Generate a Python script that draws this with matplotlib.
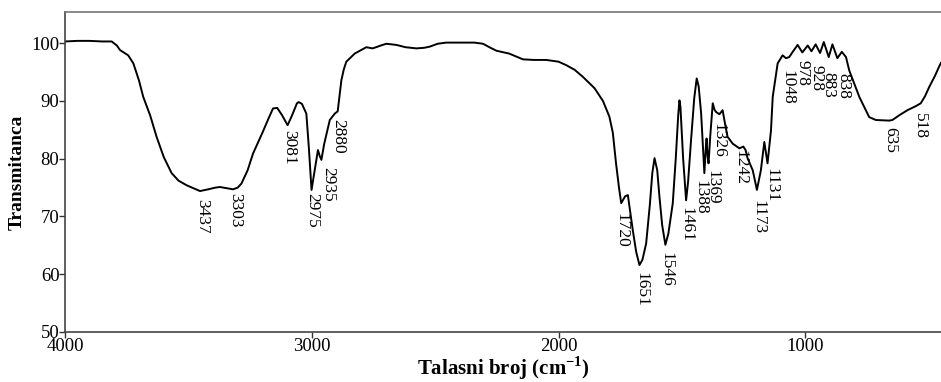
import matplotlib
matplotlib.use('Agg')
import matplotlib.pyplot as plt

plt.rcParams['font.family'] = ['Liberation Serif', 'DejaVu Serif']

# spektar (talasni broj, transmitanca) ocitan sa slike
wn = [4000, 3950, 3900, 3850, 3811, 3790, 3777, 3755, 3744, 3723, 3700, 3683,
      3655, 3629, 3600, 3568, 3540, 3507, 3480, 3453, 3420, 3390, 3372, 3345,
      3319, 3300, 3285, 3260, 3238, 3200, 3175, 3157, 3140, 3120, 3098, 3080,
      3060, 3053, 3040, 3022, 3012, 3001, 2990, 2975, 2968, 2961, 2950, 2927,
      2907, 2895, 2880, 2870, 2860, 2826, 2800, 2779, 2753, 2720, 2698, 2657,
      2620, 2576, 2545, 2522, 2490, 2455, 2400, 2340, 2306, 2280, 2252, 2200,
      2144, 2100, 2050, 2000, 1969, 1935, 1902, 1854, 1820, 1794, 1780, 1767,
      1755, 1746, 1730, 1719, 1710, 1699, 1685, 1672, 1660, 1645, 1630, 1620,
      1611, 1600, 1591, 1580, 1567, 1555, 1537, 1525, 1515, 1510, 1506, 1495,
      1483, 1475, 1463, 1450, 1440, 1432, 1422, 1409, 1403, 1400, 1396, 1392,
      1385, 1375, 1368, 1362, 1348, 1335, 1325, 1315, 1294, 1267, 1251, 1242,
      1234, 1213, 1196, 1180, 1166, 1153, 1139, 1132, 1112, 1092, 1078, 1065,
      1051, 1031, 1012, 990, 975, 958, 940, 925, 905, 890, 870, 852,
      835, 822, 781, 741, 714, 660, 647, 620, 586, 552, 532, 515,
      498, 475, 457, 450]
T = [100.3, 100.4, 100.4, 100.3, 100.3, 99.6, 98.8, 98.2, 97.9, 96.5, 93.5, 90.7,
     87.5, 83.8, 80.3, 77.5, 76.2, 75.4, 74.9, 74.4, 74.7, 75.0, 75.1, 74.9,
     74.7, 75.0, 75.7, 78.0, 80.9, 84.5, 87.0, 88.7, 88.8, 87.5, 85.8, 87.5,
     89.6, 89.8, 89.5, 87.8, 82.0, 74.6, 77.5, 81.5, 80.5, 79.8, 82.5, 86.7,
     87.8, 88.2, 93.6, 95.5, 96.8, 98.2, 98.8, 99.3, 99.1, 99.6, 99.9, 99.7,
     99.3, 99.1, 99.2, 99.4, 99.9, 100.1, 100.1, 100.1, 99.9, 99.3, 98.7, 98.2,
     97.2, 97.1, 97.1, 96.8, 96.2, 95.4, 94.2, 92.2, 90.0, 87.3, 84.5, 79.2,
     75.0, 72.3, 73.5, 73.7, 71.0, 67.6, 63.8, 61.6, 62.5, 65.3, 72.0, 77.5,
     80.1, 78.0, 73.4, 68.5, 65.1, 67.0, 72.3, 80.0, 87.5, 90.1, 89.0, 80.0,
     72.8, 76.0, 83.2, 90.5, 93.9, 92.5, 87.8, 77.5, 82.0, 83.5, 80.5, 79.2,
     84.0, 89.6, 88.5, 88.1, 87.7, 88.4, 86.0, 83.8, 82.6, 81.8, 82.1, 81.5,
     80.1, 78.0, 74.6, 78.0, 82.9, 79.2, 84.9, 90.7, 96.5, 97.9, 97.4, 97.6,
     98.5, 99.7, 98.4, 99.6, 98.6, 99.8, 98.3, 100.2, 97.6, 99.8, 97.4, 98.5,
     97.6, 95.3, 90.7, 87.2, 86.7, 86.6, 86.7, 87.5, 88.4, 89.1, 89.6, 90.8,
     92.4, 94.3, 96.0, 96.6]

# oznake pikova i mesto gde stoje
peak_labels = ['3437', '3303', '3081', '2975', '2935', '2880', '1720', '1651',
               '1546', '1461', '1388', '1369', '1326', '1242', '1173', '1131',
               '1048', '978', '928', '883', '838', '635', '518']
label_wn = [3445, 3311, 3092, 3000, 2934, 2893, 1746, 1665, 1564, 1483, 1426,
            1377, 1353, 1264, 1191, 1138, 1073, 1012, 956, 907, 846, 656, 534]
label_T = [73.0, 74.0, 84.9, 74.0, 78.5, 86.9, 70.6, 60.4, 63.8, 71.6, 76.3,
           78.0, 86.2, 81.5, 72.8, 78.4, 95.3, 97.1, 96.2, 95.0, 94.8, 85.5, 87.9]

xticks = [4000, 3000, 2000, 1000]
yticks = [50, 60, 70, 80, 90, 100]

fig = plt.figure(figsize=(9.41, 3.82), dpi=100)
ax = fig.add_axes([0.0691, 0.1309, 0.9309, 0.8377])

ax.plot(wn, T, color='black', lw=1.4)

for lab, x, y in zip(peak_labels, label_wn, label_T):
    ax.text(x, y, lab, rotation=-90, ha='center', va='top', fontsize=12.5)

ax.set_xlim(4000, 450)
ax.set_ylim(50, 105.4)
ax.set_xticks(xticks)
ax.set_yticks(yticks)
ax.tick_params(direction='out', length=4, width=1, labelsize=13.5, pad=0, colors='#333333')
ax.tick_params(labelcolor='black')

ax.spines['right'].set_visible(False)
ax.spines['top'].set_color('#777777')
ax.spines['left'].set_color('#444444')
ax.spines['bottom'].set_color('#444444')
for s in ['top', 'left', 'bottom']:
    ax.spines[s].set_linewidth(1.2)

ax.set_xlabel('Talasni broj (cm$^{\\mathregular{-1}}$)', fontsize=15, fontweight='bold', labelpad=0)
ax.set_ylabel('Transmitanca', fontsize=14, fontweight='bold', labelpad=4)

fig.savefig('out.png', dpi=100)
